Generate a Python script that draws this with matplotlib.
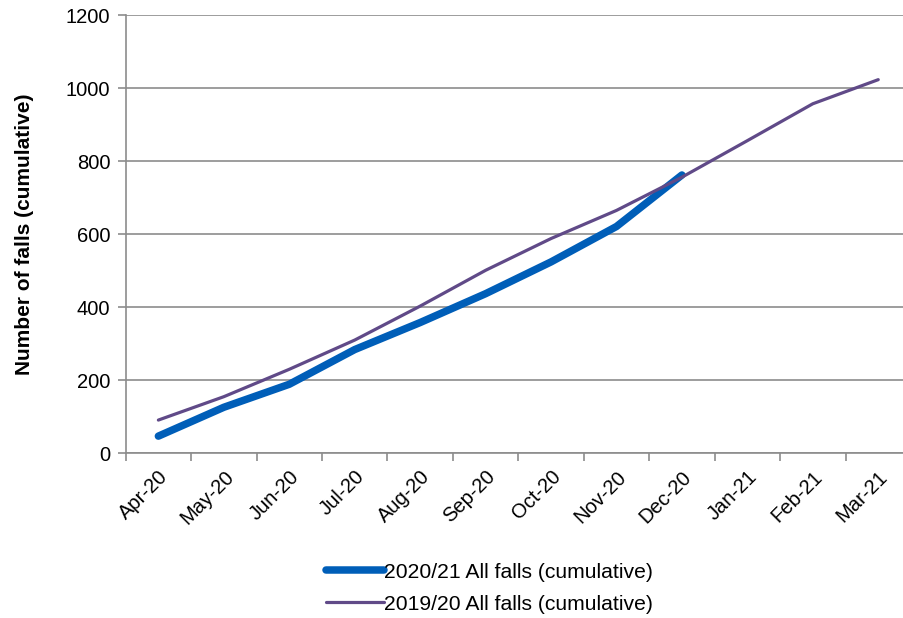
import numpy as np
import matplotlib
matplotlib.use("Agg")
import matplotlib.pyplot as plt

plt.rcParams['font.family'] = ['Liberation Sans', 'DejaVu Sans']

# 月份类别
months = ['Apr-20', 'May-20', 'Jun-20', 'Jul-20', 'Aug-20', 'Sep-20',
          'Oct-20', 'Nov-20', 'Dec-20', 'Jan-21', 'Feb-21', 'Mar-21']
# 2020/21 累计（到 Dec-20 为止）
falls_2021 = [47, 126, 189, 284, 358, 437, 524, 621, 762]
# 2019/20 累计
falls_1920 = [91, 155, 230, 310, 403, 501, 588, 665, 756, 856, 957, 1023]
yticks = [0, 200, 400, 600, 800, 1000, 1200]

grid_c = '#8c8c8c'
fs = 14.5

fig = plt.figure(figsize=(9.04, 6.18), dpi=100)
ax = fig.add_axes([0.139, 0.2665, 0.8687, 0.7092])

x1 = np.arange(len(falls_2021))
x2 = np.arange(len(falls_1920))
ax.plot(x1, falls_2021, color='#005EB8', lw=5.4, solid_capstyle='round',
        label='2020/21 All falls (cumulative)', zorder=3)
ax.plot(x2, falls_1920, color='#604A88', lw=2.3, solid_capstyle='round',
        label='2019/20 All falls (cumulative)', zorder=4)

ax.set_xlim(-0.5, len(months) - 0.5)
ax.set_ylim(0, 1200)
ax.set_yticks(yticks)
ax.set_yticklabels([str(v) for v in yticks], fontsize=fs)
ax.yaxis.grid(True, color=grid_c, lw=1.2)
ax.set_axisbelow(True)

ax.set_xticks(np.arange(len(months)))
ax.set_xticklabels(months, rotation=45, ha='right', rotation_mode='anchor', fontsize=fs)
ax.tick_params(axis='x', which='major', length=0, pad=10)
ax.set_xticks(np.arange(len(months) + 1) - 0.5, minor=True)
ax.tick_params(axis='x', which='minor', length=6, width=1.2, color=grid_c, direction='out')
ax.tick_params(axis='y', length=6, width=1.2, color=grid_c, pad=5)

for s in ['top', 'right']:
    ax.spines[s].set_visible(False)
for s in ['left', 'bottom']:
    ax.spines[s].set_color(grid_c)
    ax.spines[s].set_linewidth(1.2)

ax.set_ylabel('Number of falls (cumulative)', fontsize=15, fontweight='bold', labelpad=23)

fig.legend(loc='center', bbox_to_anchor=(0.541, 0.048), frameon=False, fontsize=15.2,
           handlelength=2.75, handletextpad=0.0, labelspacing=0.62)

fig.savefig('out.png', dpi=100)
